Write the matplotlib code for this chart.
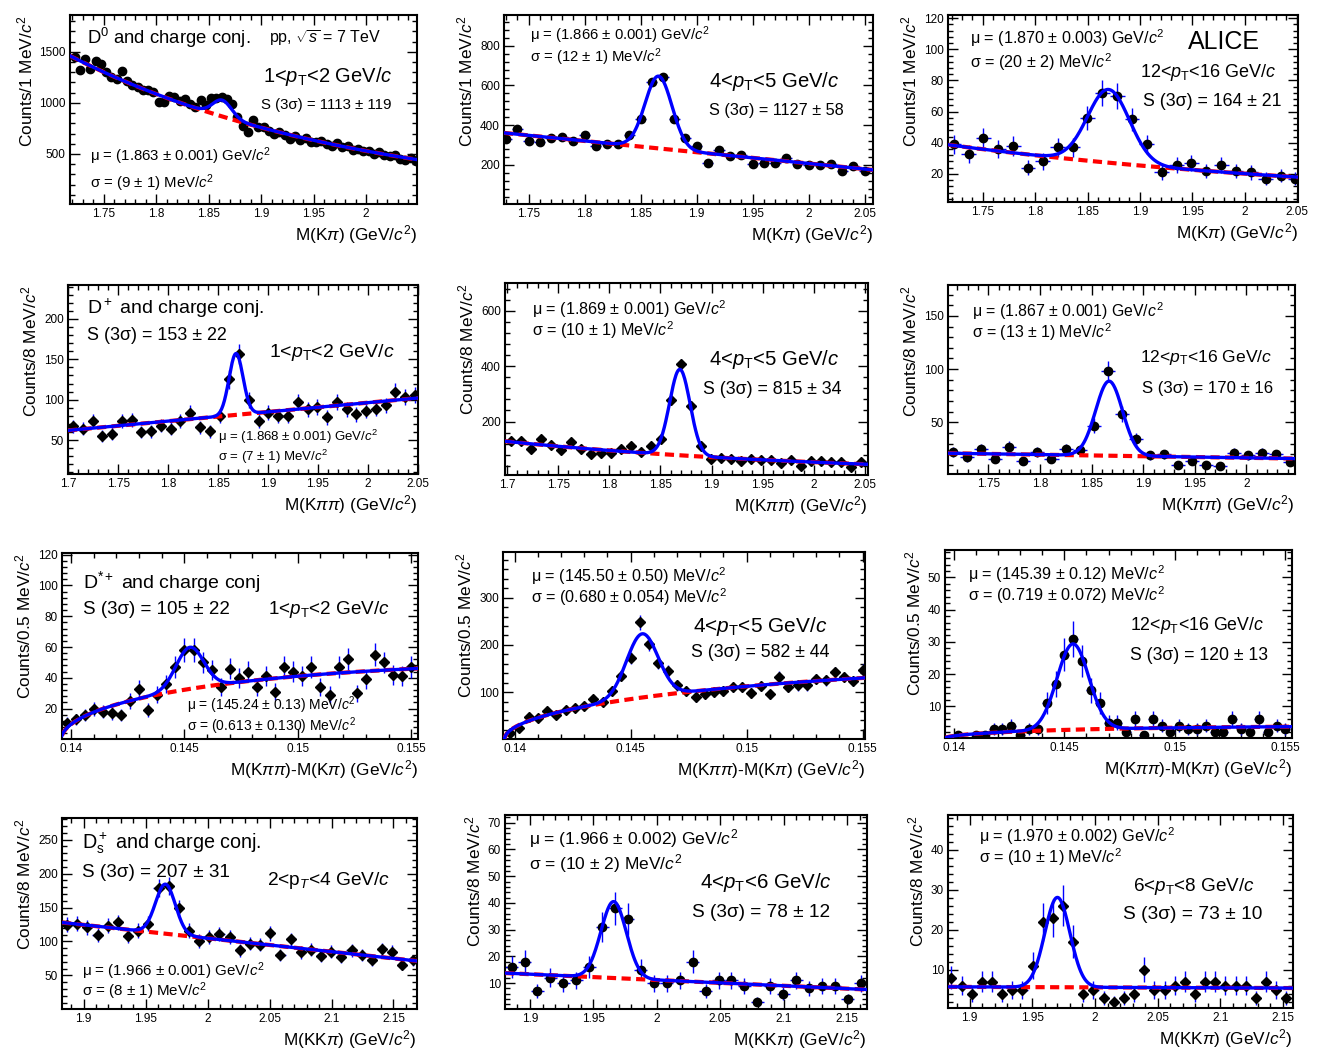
import numpy as np
import matplotlib
matplotlib.use('Agg')
import matplotlib.pyplot as plt
from matplotlib.ticker import MultipleLocator, AutoMinorLocator, FuncFormatter

plt.rcParams['font.family'] = ['Liberation Sans', 'DejaVu Sans']
plt.rcParams['mathtext.fontset'] = 'custom'
plt.rcParams['mathtext.rm'] = 'Liberation Sans'
plt.rcParams['mathtext.it'] = 'Liberation Sans:italic'
plt.rcParams['mathtext.bf'] = 'Liberation Sans:bold'
plt.rcParams['mathtext.sf'] = 'Liberation Sans'

M_PI = 0.13957

# ---------------- values ----------------
# D0 -> K pi  (bin start, bin width, counts)
d0_a_x0, d0_a_dx = 1.7225, 0.005
d0_a_y = [1450, 1320, 1425, 1330, 1405, 1385, 1300, 1255, 1235, 1310, 1215, 1175,
          1160, 1125, 1130, 1110, 1005, 1010, 1065, 1055, 1020, 1040, 985, 955,
          1025, 975, 1045, 1050, 1060, 1040, 990, 860, 775, 715, 835, 760, 765,
          725, 700, 715, 690, 650, 675, 640, 660, 620, 615, 625, 600, 575, 605,
          565, 575, 540, 545, 525, 530, 500, 520, 490, 480, 485, 455, 440, 460, 430]
d0_b_x0, d0_b_dx = 1.73, 0.01
d0_b_y = [330, 382, 318, 313, 335, 343, 318, 351, 296, 305, 305, 351, 430, 619, 644,
          430, 335, 293, 209, 273, 243, 248, 204, 209, 209, 234, 204, 197, 197, 204,
          170, 196, 170]
d0_c_x0, d0_c_dx = 1.722, 0.0142
d0_c_y = [39, 33, 43, 36, 38, 24, 28, 37, 37, 56, 72, 70, 55, 39, 21, 26, 27, 22,
          26, 22, 21, 17, 19, 17]

# D+ -> K pi pi
dp_a_x0, dp_a_dx = 1.7045, 0.0098
dp_a_y = [67, 64, 74, 55, 58, 74, 75, 60, 61, 68, 64, 74, 84, 66, 61, 80, 125, 157,
          100, 74, 84, 80, 80, 97, 88, 91, 78, 97, 88, 82, 86, 89, 93, 110, 103, 106]
dp_b_x0, dp_b_dx = 1.7035, 0.0098
dp_b_y = [130, 131, 101, 137, 116, 98, 125, 101, 82, 86, 86, 101, 110, 89, 112, 136,
          278, 407, 257, 112, 65, 67, 64, 58, 64, 61, 61, 49, 61, 40, 59, 59, 55, 53,
          37, 53]
dp_c_x0, dp_c_dx = 1.716, 0.0136
dp_c_y = [22, 17, 25, 16, 27, 14, 22, 16, 25, 24, 47, 98, 58, 34, 19, 20, 10, 14, 10,
          9, 21, 19, 21, 20, 13]

# D*+ -> D0 pi
ds_a_x0, ds_a_dx = 0.1398, 0.0004
ds_a_y = [11, 13, 16, 20, 18, 17, 16, 25, 33, 19, 29, 36, 47, 58, 58, 50, 45, 34, 46,
          40, 44, 34, 41, 31, 47, 44, 41, 47, 34, 29, 47, 52, 30, 39, 55, 50, 42, 41, 47]
ds_b_x0, ds_b_dx = 0.1398, 0.0004
ds_b_y = [13, 24, 48, 44, 60, 51, 61, 66, 70, 85, 78, 102, 135, 172, 248, 202, 161,
          145, 114, 102, 89, 95, 100, 102, 111, 111, 98, 113, 95, 133, 111, 114, 114,
          128, 125, 142, 132, 123, 147]
ds_c_x0, ds_c_dx = 0.1398, 0.0004
ds_c_y = [0, 1, 0, 1, 1, 3, 3, 4, 1, 3, 3, 11, 17, 26, 31, 24, 15, 11, 5, 5, 2, 6, 1,
          6, 4, 2, 4, 3, 3, 4, 2, 2, 6, 3, 2, 6, 2, 4, 3]

# Ds+ -> K K pi
dsp_a_x0, dsp_a_dx = 1.8866, 0.0082
dsp_a_y = [125, 126, 121, 110, 123, 128, 108, 116, 126, 179, 182, 149, 116, 101, 107,
           111, 107, 87, 97, 95, 112, 80, 103, 84, 88, 78, 85, 77, 87, 80, 72, 89, 85,
           66, 72]
dsp_b_x0, dsp_b_dx = 1.8855, 0.0102
dsp_b_y = [16, 18, 7, 12, 10, 11, 16, 31, 38, 34, 15, 10, 10, 11, 18, 7, 11, 11, 9, 3,
           9, 6, 11, 8, 9, 9, 4, 10]
dsp_c_x0, dsp_c_dx = 1.8854, 0.0081
dsp_c_y = [8, 6, 4, 7, 7, 4, 5, 5, 11, 22, 23, 26, 17, 4, 5, 3, 2, 3, 4, 10, 5, 5, 6, 7,
           4, 7, 7, 6, 6, 6, 3, 7, 5, 3]

# fit results: [mu, sigma, gaussian height]; background [kind, p0, p1, x_ref]
d0_a_fit, d0_a_bkg = [1.863, 0.009, 160.], ['expo', 1450., -3.6, 1.72]
d0_b_fit, d0_b_bkg = [1.866, 0.012, 364.], ['lin', 360., -566., 1.73]
d0_c_fit, d0_c_bkg = [1.870, 0.020, 47.], ['expo', 38.7, -2.3, 1.717]
dp_a_fit, dp_a_bkg = [1.868, 0.007, 76.], ['lin', 62., 114.3, 1.70]
dp_b_fit, dp_b_bkg = [1.869, 0.010, 310.], ['expo', 128., -2.92, 1.70]
dp_c_fit, dp_c_bkg = [1.867, 0.013, 70.], ['lin', 21., -14.9, 1.711]
ds_a_fit, ds_a_bkg = [0.14524, 0.000613, 27.], ['thr', 480., -17., M_PI]
ds_b_fit, ds_b_bkg = [0.14550, 0.00068, 135.], ['thr', 1220., -10., M_PI]
ds_c_fit, ds_c_bkg = [0.14539, 0.000719, 26.6], ['thr', 41.2, -21., M_PI]
dsp_a_fit, dsp_a_bkg = [1.966, 0.008, 73.], ['lin', 128., -197.9, 1.8825]
dsp_b_fit, dsp_b_bkg = [1.966, 0.010, 28.6], ['lin', 13.75, -21.6, 1.88]
dsp_c_fit, dsp_c_bkg = [1.970, 0.010, 22.5], ['lin', 5.7, -1.1, 1.8827]

# counts per drawn unit (bins shown normalised per MeV in the D0 low-pt panels)
d0_norm = [5, 10, 1]

XL_KPI = 'M(K$\\pi$) (GeV/$c^2$)'
XL_KPIPI = 'M(K$\\pi\\pi$) (GeV/$c^2$)'
XL_DM = 'M(K$\\pi\\pi$)-M(K$\\pi$) (GeV/$c^2$)'
XL_KKPI = 'M(KK$\\pi$) (GeV/$c^2$)'
YL_1 = 'Counts/1 MeV/$c^2$'
YL_8 = 'Counts/8 MeV/$c^2$'
YL_05 = 'Counts/0.5 MeV/$c^2$'

# panel: data, fit, box in pixels (l, t, r, b), xlim, ylim, majors, labels, marker, norm, texts
panels = [
    (d0_a_x0, d0_a_dx, d0_a_y, d0_a_fit, d0_a_bkg, (70, 15, 417, 204),
     (1.718, 2.0485), (10, 1860), 0.05, 500, XL_KPI, YL_1, 'o', None,
     [(0.049, 0.878, 'D$^0$ and charge conj.', 13.3),
      (0.574, 0.878, 'pp, $\\sqrt{s}$ = 7 TeV', 11.5),
      (0.557, 0.677, '1<$p_{\\rm T}$<2 GeV/$c$', 14.5),
      (0.550, 0.524, 'S (3σ) = 1113 ± 119', 10.8),
      (0.058, 0.252, 'μ = (1.863 ± 0.001) GeV/$c^2$', 10.8),
      (0.058, 0.108, 'σ = (9 ± 1) MeV/$c^2$', 10.8)]),
    (d0_b_x0, d0_b_dx, d0_b_y, d0_b_fit, d0_b_bkg, (504, 15, 873, 204),
     (1.728, 2.0575), (3, 955), 0.05, 200, XL_KPI, YL_1, 'o', d0_norm[1],
     [(0.070, 0.893, 'μ = (1.866 ± 0.001) GeV/$c^2$', 10.7),
      (0.070, 0.779, 'σ = (12 ± 1) MeV/$c^2$', 10.7),
      (0.556, 0.646, '4<$p_{\\rm T}$<5 GeV/$c$', 14.6),
      (0.556, 0.497, 'S (3σ) = 1127 ± 58', 11.7)]),
    (d0_c_x0, d0_c_dx, d0_c_y, d0_c_fit, d0_c_bkg, (948, 15, 1298, 202),
     (1.7166, 2.051), (2, 122), 0.05, 20, XL_KPI, YL_1, 'o', d0_norm[2],
     [(0.063, 0.876, 'μ = (1.870 ± 0.003) GeV/$c^2$', 11.6),
      (0.063, 0.750, 'σ = (20 ± 2) MeV/$c^2$', 11.6),
      (0.686, 0.856, 'ALICE', 18),
      (0.549, 0.690, '12<$p_{\\rm T}$<16 GeV/$c$', 13),
      (0.557, 0.535, 'S (3σ) = 164 ± 21', 12.8)]),
    (dp_a_x0, dp_a_dx, dp_a_y, dp_a_fit, dp_a_bkg, (68, 285, 418, 474),
     (1.6995, 2.0505), (8, 242), 0.05, 50, XL_KPIPI, YL_8, 'D', 1,
     [(0.054, 0.878, 'D$^+$ and charge conj.', 14),
      (0.054, 0.735, 'S (3σ) = 153 ± 22', 12.9),
      (0.575, 0.645, '1<$p_{\\rm T}$<2 GeV/$c$', 14),
      (0.430, 0.194, 'μ = (1.868 ± 0.001) GeV/$c^2$', 9.5),
      (0.430, 0.088, 'σ = (7 ± 1) MeV/$c^2$', 9.5)]),
    (dp_b_x0, dp_b_dx, dp_b_y, dp_b_fit, dp_b_bkg, (505, 283, 868, 475),
     (1.698, 2.053), (7, 700), 0.05, 200, XL_KPIPI, YL_8, 'D', 1,
     [(0.074, 0.864, 'μ = (1.869 ± 0.001) GeV/$c^2$', 11.6),
      (0.074, 0.756, 'σ = (10 ± 1) MeV/$c^2$', 11.6),
      (0.562, 0.599, '4<$p_{\\rm T}$<5 GeV/$c$', 14.6),
      (0.545, 0.443, 'S (3σ) = 815 ± 34', 12.8)]),
    (dp_c_x0, dp_c_dx, dp_c_y, dp_c_fit, dp_c_bkg, (948, 285, 1295, 474),
     (1.711, 2.047), (1.5, 179), 0.05, 50, XL_KPIPI, YL_8, 'o', 1,
     [(0.069, 0.862, 'μ = (1.867 ± 0.001) GeV/$c^2$', 11.4),
      (0.069, 0.753, 'σ = (13 ± 1) MeV/$c^2$', 11.4),
      (0.553, 0.619, '12<$p_{\\rm T}$<16 GeV/$c$', 12.6),
      (0.559, 0.455, 'S (3σ) = 170 ± 16', 12.1)]),
    (ds_a_x0, ds_a_dx, ds_a_y, ds_a_fit, ds_a_bkg, (62, 553, 418, 739),
     (0.1396, 0.1553), (0.3, 121), 0.005, 20, XL_DM, YL_05, 'D', 1,
     [(0.059, 0.844, 'D$^{*+}$ and charge conj', 14),
      (0.059, 0.694, 'S (3σ) = 105 ± 22', 13.5),
      (0.579, 0.694, '1<$p_{\\rm T}$<2 GeV/$c$', 13.6),
      (0.351, 0.182, 'μ = (145.24 ± 0.13) MeV/$c^2$', 10),
      (0.351, 0.068, 'σ = (0.613 ± 0.130) MeV/$c^2$', 10)]),
    (ds_b_x0, ds_b_dx, ds_b_y, ds_b_fit, ds_b_bkg, (503, 552, 865, 739),
     (0.1395, 0.1551), (0.5, 397), 0.005, 100, XL_DM, YL_05, 'D', 1,
     [(0.077, 0.871, 'μ = (145.50 ± 0.50) MeV/$c^2$', 11.6),
      (0.077, 0.761, 'σ = (0.680 ± 0.054) MeV/$c^2$', 11.6),
      (0.525, 0.599, '4<$p_{\\rm T}$<5 GeV/$c$', 15),
      (0.519, 0.460, 'S (3σ) = 582 ± 44', 12.8)]),
    (ds_c_x0, ds_c_dx, ds_c_y, ds_c_fit, ds_c_bkg, (945, 550, 1292, 738),
     (0.1396, 0.1553), (0.2, 58.5), 0.005, 10, XL_DM, YL_05, 'o', 1,
     [(0.066, 0.872, 'μ = (145.39 ± 0.12) MeV/$c^2$', 11.7),
      (0.066, 0.762, 'σ = (0.719 ± 0.072) MeV/$c^2$', 11.7),
      (0.533, 0.600, '12<$p_{\\rm T}$<16 GeV/$c$', 12.8),
      (0.533, 0.440, 'S (3σ) = 120 ± 13', 12.7)]),
    (dsp_a_x0, dsp_a_dx, dsp_a_y, dsp_a_fit, dsp_a_bkg, (62, 818, 417, 1009),
     (1.8825, 2.169), (0.5, 282), 0.05, 50, XL_KKPI, YL_8, 'D', 1,
     [(0.056, 0.869, 'D$_{\\rm s}^+$ and charge conj.', 14.2),
      (0.057, 0.717, 'S (3σ) = 207 ± 31', 13.6),
      (0.577, 0.675, '2<p$_{T}$<4 GeV/$c$', 13.8),
      (0.057, 0.198, 'μ = (1.966 ± 0.001) GeV/$c^2$', 10.9),
      (0.057, 0.091, 'σ = (8 ± 1) MeV/$c^2$', 10.9)]),
    (dsp_b_x0, dsp_b_dx, dsp_b_y, dsp_b_fit, dsp_b_bkg, (505, 815, 867, 1009),
     (1.8803, 2.1658), (0.3, 72.9), 0.05, 10, XL_KKPI, YL_8, 'o', 1,
     [(0.066, 0.879, 'μ = (1.966 ± 0.002) GeV/$c^2$', 12.5),
      (0.066, 0.750, 'σ = (10 ± 2) MeV/$c^2$', 12.5),
      (0.539, 0.650, '4<$p_{\\rm T}$<6 GeV/$c$', 14.8),
      (0.517, 0.495, 'S (3σ) = 78 ± 12', 13.7)]),
    (dsp_c_x0, dsp_c_dx, dsp_c_y, dsp_c_fit, dsp_c_bkg, (948, 815, 1293, 1008),
     (1.8827, 2.158), (0.4, 48.75), 0.05, 10, XL_KKPI, YL_8, 'D', 1,
     [(0.090, 0.891, 'μ = (1.970 ± 0.002) GeV/$c^2$', 11.7),
      (0.090, 0.784, 'σ = (10 ± 1) MeV/$c^2$', 11.7),
      (0.536, 0.627, '6<$p_{\\rm T}$<8 GeV/$c$', 13.6),
      (0.507, 0.482, 'S (3σ) = 73 ± 10', 13.8)]),
]

W, H = 1320, 1050
BLUE = '#0000ff'
RED = '#ff0000'


def bkg_curve(bkg, x):
    kind, p0, p1, xr = bkg
    if kind == 'expo':
        return p0 * np.exp(p1 * (x - xr))
    if kind == 'lin':
        return p0 + p1 * (x - xr)
    d = np.clip(x - xr, 0, None)
    return p0 * np.sqrt(d) * np.exp(p1 * d)


fmt = FuncFormatter(lambda v, p: f'{round(v, 6):g}')

fig = plt.figure(figsize=(W / 100, H / 100), dpi=100)

for (x0, dx, yv, fit, bkg, box, xlim, ylim, xmaj, ymaj, xlab, ylab,
     mk, norm, texts) in panels:
    l, t, r, b = box
    ax = fig.add_axes([l / W, 1 - b / H, (r - l) / W, (b - t) / H])
    y = np.asarray(yv, float)
    x = x0 + dx * np.arange(len(y))
    keep = y > 0
    if norm is not None:
        ax.errorbar(x[keep], y[keep], yerr=np.sqrt(y[keep] / norm), xerr=dx / 2,
                    fmt='none', ecolor=BLUE, elinewidth=1.0, capsize=0, zorder=2)
    ms = 6 if mk == 'o' else 5.5
    ax.plot(x[keep], y[keep], ls='none', marker=mk, ms=ms, color='black', zorder=3)

    xx = np.linspace(xlim[0], xlim[1], 500)
    bg = bkg_curve(bkg, xx)
    mu, sig, amp = fit
    ax.plot(xx, bg, color=RED, lw=3, dashes=(2.2, 1.3), zorder=4)
    ax.plot(xx, bg + amp * np.exp(-0.5 * ((xx - mu) / sig) ** 2),
            color=BLUE, lw=2.4, zorder=5)

    ax.set_xlim(xlim)
    ax.set_ylim(ylim)
    ax.xaxis.set_major_locator(MultipleLocator(xmaj))
    ax.xaxis.set_minor_locator(AutoMinorLocator(5))
    ax.yaxis.set_major_locator(MultipleLocator(ymaj))
    ax.yaxis.set_minor_locator(AutoMinorLocator(5))
    ax.xaxis.set_major_formatter(fmt)
    ax.yaxis.set_major_formatter(fmt)
    ax.tick_params(which='both', direction='in', top=True, right=True,
                   labelsize=8.5, width=1)
    ax.tick_params(which='major', length=7, pad=3)
    ax.tick_params(which='minor', length=3.5)
    for s in ax.spines.values():
        s.set_linewidth(1.5)
    ax.set_xlabel(xlab, loc='right', fontsize=12.4, labelpad=2)
    ax.set_ylabel(ylab, loc='top', fontsize=12.4, labelpad=3)

    for tx, ty, s, fs in texts:
        ax.text(tx, ty, s, transform=ax.transAxes, ha='left', va='center',
                fontsize=fs)

fig.savefig('out.png', dpi=100, facecolor='white')
